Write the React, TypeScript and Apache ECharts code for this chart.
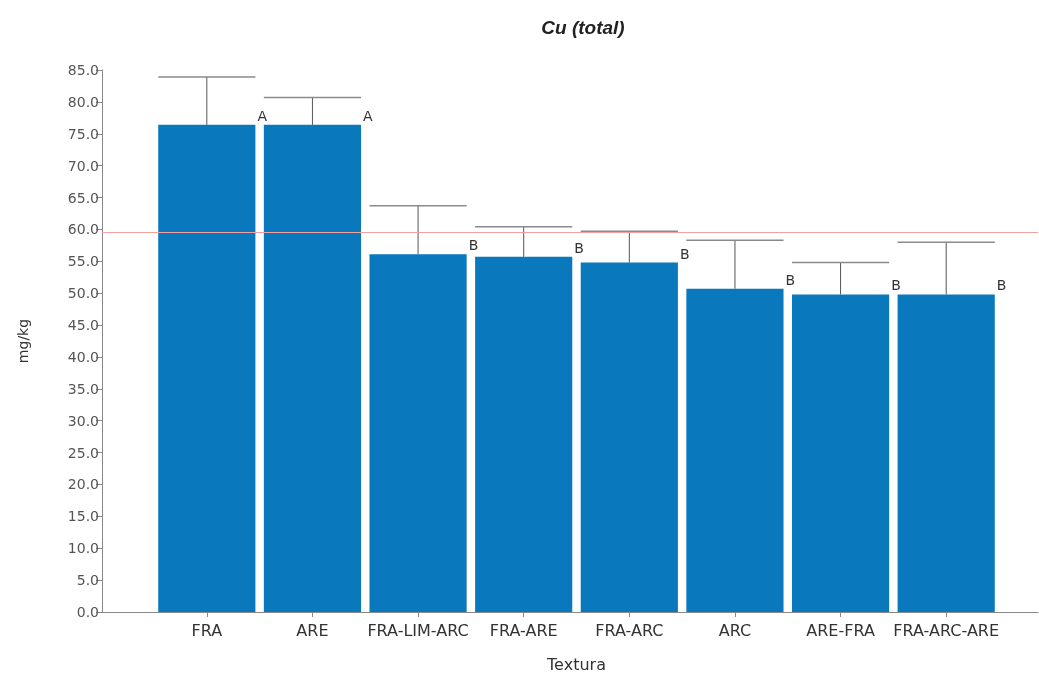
import React, { useEffect, useRef } from "react";
import * as echarts from "echarts";

const categories = ["FRA", "ARE", "FRA-LIM-ARC", "FRA-ARE", "FRA-ARC", "ARC", "ARE-FRA", "FRA-ARC-ARE"];
const means = [76.4, 76.4, 56.1, 55.7, 54.8, 50.7, 49.8, 49.8];
const upper = [83.9, 80.7, 63.7, 60.4, 59.7, 58.3, 54.8, 58.0];
const groups = ["A", "A", "B", "B", "B", "B", "B", "B"];
const refLine = 59.5;
const yTicks = { min: 0, max: 85, interval: 5 };

export default function App() {
  const ref = useRef<HTMLDivElement>(null);
  useEffect(() => {
    if (!ref.current) return;
    const chart = echarts.init(ref.current, null, { renderer: "svg" });
    const sans = "DejaVu Sans";
    chart.setOption({
      animation: false,
      title: {
        text: "Cu (total)",
        left: 578,
        top: 13,
        textAlign: "center",
        textStyle: { fontFamily: "Liberation Sans", fontStyle: "italic", fontWeight: "bold", fontSize: 19, color: "#222" },
      },
      grid: [
        { left: 102, right: 1, top: 70, bottom: 67 },
        { left: 154, right: 40, top: 70, bottom: 67 },
      ],
      xAxis: [
        {
          gridIndex: 0,
          type: "value",
          min: 0,
          max: 1,
          axisLine: { show: true, lineStyle: { color: "#888", width: 1 } },
          axisTick: { show: false },
          axisLabel: { show: false },
          splitLine: { show: false },
        },
        {
          gridIndex: 1,
          type: "category",
          data: categories,
          axisLine: { show: false },
          axisTick: { show: true, alignWithLabel: true, length: 5, lineStyle: { color: "#888" } },
          axisLabel: { fontFamily: sans, fontSize: 16, color: "#333", margin: 10, interval: 0 },
          name: "Textura",
          nameLocation: "middle",
          nameGap: 44,
          nameTextStyle: { fontFamily: sans, fontSize: 16, color: "#333" },
        },
      ],
      yAxis: [
        {
          gridIndex: 0,
          type: "value",
          min: yTicks.min,
          max: yTicks.max,
          interval: yTicks.interval,
          axisLine: { show: true, lineStyle: { color: "#888", width: 1 } },
          axisTick: { show: true, length: 6, lineStyle: { color: "#888" } },
          axisLabel: { fontFamily: sans, fontSize: 14, color: "#555", margin: 3, formatter: (v: number) => v.toFixed(1) },
          splitLine: { show: false },
          name: "mg/kg",
          nameLocation: "middle",
          nameGap: 72,
          nameTextStyle: { fontFamily: sans, fontSize: 14, color: "#333" },
        },
        {
          gridIndex: 1,
          type: "value",
          min: yTicks.min,
          max: yTicks.max,
          interval: yTicks.interval,
          show: false,
        },
      ],
      series: [
        {
          type: "line",
          xAxisIndex: 0,
          yAxisIndex: 0,
          data: [],
          z: 1,
          markLine: {
            silent: true,
            symbol: "none",
            label: { show: false },
            lineStyle: { color: "#f2a0a0", type: "solid", width: 1 },
            data: [{ yAxis: refLine }],
          },
        },
        {
          type: "bar",
          xAxisIndex: 1,
          yAxisIndex: 1,
          data: means,
          barWidth: "92%",
          z: 3,
          itemStyle: { color: "#0a78bd" },
          label: {
            show: true,
            position: ["100%", "0%"],
            offset: [2, -2],
            verticalAlign: "bottom",
            align: "left",
            fontFamily: sans,
            fontSize: 14,
            color: "#333",
            formatter: (p: any) => groups[p.dataIndex],
          },
        },
        {
          type: "custom",
          xAxisIndex: 1,
          yAxisIndex: 1,
          z: 4,
          data: categories.map((c, i) => [i, means[i], upper[i]]),
          encode: { x: 0, y: [1, 2] },
          renderItem: (params: any, api: any) => {
            const x = api.value(0);
            const p1 = api.coord([x, api.value(1)]);
            const p2 = api.coord([x, api.value(2)]);
            const w = api.size([1, 0])[0] * 0.92;
            return {
              type: "group",
              children: [
                { type: "line", shape: { x1: p1[0], y1: p1[1], x2: p2[0], y2: p2[1] }, style: { stroke: "#555", lineWidth: 1 } },
                { type: "line", shape: { x1: p2[0] - w / 2, y1: p2[1], x2: p2[0] + w / 2, y2: p2[1] }, style: { stroke: "#8a8a8a", lineWidth: 1.5 } },
              ],
            };
          },
        },
      ],
    });
    return () => chart.dispose();
  }, []);
  return <div ref={ref} style={{ position: "fixed", left: 0, top: 0, width: 1039, height: 679 }} />;
}
